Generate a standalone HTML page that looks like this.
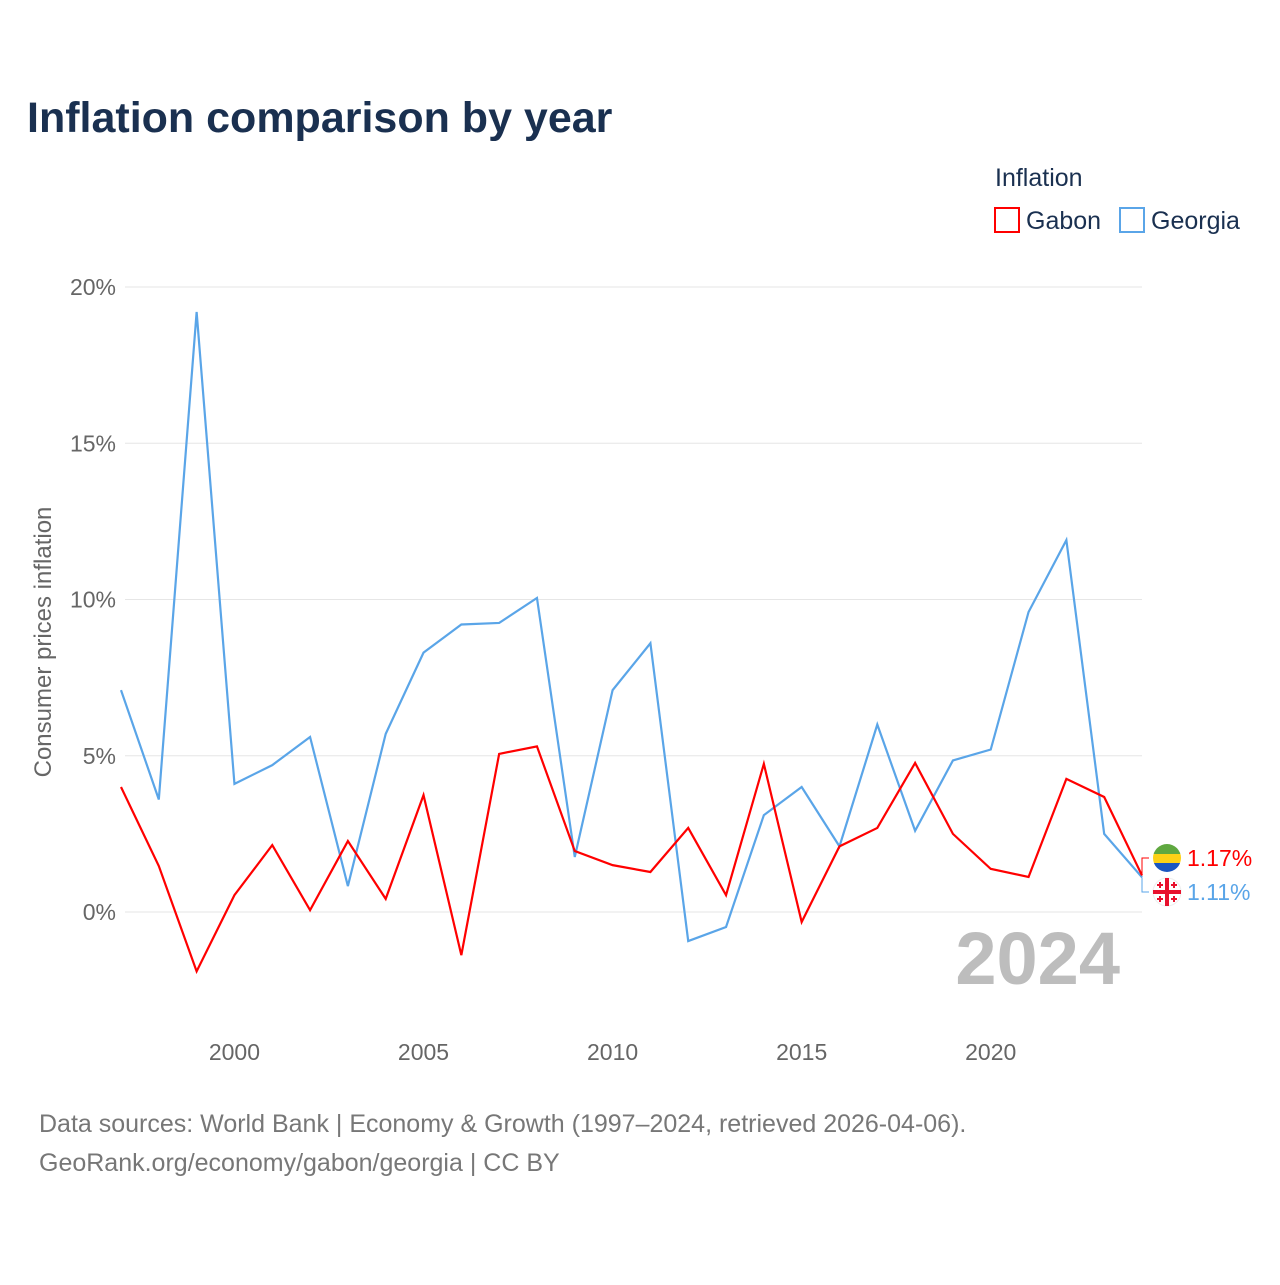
<!DOCTYPE html>
<html><head><meta charset="utf-8">
<style>
body{margin:0;background:#fff;font-family:"Liberation Sans",sans-serif;}
svg text{font-family:"Liberation Sans",sans-serif;}
</style></head>
<body>
<svg id="chart" width="1280" height="1280" xmlns="http://www.w3.org/2000/svg">
<text x="27" y="132" font-size="43" font-weight="bold" fill="#1a3050">Inflation comparison by year</text>
<text x="995" y="186" font-size="25" fill="#1a3050">Inflation</text>
<g><rect x="995" y="208" width="24" height="24" fill="none" stroke="#ff0000" stroke-width="2"/><text x="1026" y="229" font-size="25" fill="#1a3050">Gabon</text></g>
<g><rect x="1120" y="208" width="24" height="24" fill="none" stroke="#5aa5e8" stroke-width="2"/><text x="1151" y="229" font-size="25" fill="#1a3050">Georgia</text></g>
<text transform="translate(51,642) rotate(-90)" text-anchor="middle" font-size="24" fill="#666">Consumer prices inflation</text>
<g id="grid"></g>
<text x="1120" y="984" text-anchor="end" font-size="74" font-weight="bold" fill="#bdbdbd">2024</text>
<g id="series"></g>
<text x="39" y="1132" font-size="25" fill="#777">Data sources: World Bank | Economy &amp; Growth (1997–2024, retrieved 2026-04-06).</text>
<text x="39" y="1171" font-size="25" fill="#777">GeoRank.org/economy/gabon/georgia | CC BY</text>
</svg>
<script>
const years=[1997,1998,1999,2000,2001,2002,2003,2004,2005,2006,2007,2008,2009,2010,2011,2012,2013,2014,2015,2016,2017,2018,2019,2020,2021,2022,2023,2024];
const georgia=[7.1,3.6,19.2,4.1,4.7,5.6,0.83,5.7,8.3,9.2,9.25,10.05,1.76,7.1,8.6,-0.93,-0.48,3.1,4.0,2.1,6.0,2.6,4.85,5.2,9.6,11.9,2.5,1.11];
const gabon=[4.0,1.47,-1.9,0.54,2.14,0.06,2.27,0.42,3.74,-1.38,5.06,5.3,1.95,1.5,1.28,2.69,0.54,4.74,-0.32,2.1,2.69,4.77,2.5,1.38,1.12,4.26,3.68,1.17];
const yTicks=[0,5,10,15,20];
const xTicks=[2000,2005,2010,2015,2020];
const NS="http://www.w3.org/2000/svg";
const X=y=>121+(y-1997)*(1142-121)/27;
const Y=v=>912-v*31.25;
const grid=document.getElementById('grid'),ser=document.getElementById('series');
function mk(tag,attrs,parent){const e=document.createElementNS(NS,tag);for(const k in attrs)e.setAttribute(k,attrs[k]);parent.appendChild(e);return e;}
yTicks.forEach(t=>{
 const l=mk('line',{x1:125,x2:1142,y1:Y(t),y2:Y(t),stroke:'#e6e6e6','stroke-width':1},grid);
 
 
 const tx=mk('text',{x:116,y:Y(t)+8,'text-anchor':'end','font-size':23,fill:'#666'},grid);
 tx.textContent=t+'%';
 
 
});
xTicks.forEach(t=>{
 const tx=mk('text',{x:X(t),y:1060,'text-anchor':'middle','font-size':23,fill:'#666'},grid);
 tx.textContent=t;
 
 
});
function line(vals,color,name){
 const p=mk('polyline',{points:vals.map((v,i)=>X(years[i])+','+Y(v)).join(' '),fill:'none',stroke:color,'stroke-width':2.2,'stroke-linejoin':'miter'},ser);
 
 
}
line(georgia,'#5aa5e8','georgia-line');
line(gabon,'#ff0000','gabon-line');
const lg=gabon[gabon.length-1],lgeo=georgia[georgia.length-1];
const ex=X(2024);
const cy1=858, cy2=892;
const f1=mk('g',{},ser);


mk('path',{d:`M${ex},${Y(lg)} V${cy1} H${ex+7}`,fill:'none',stroke:'#ff0000','stroke-width':1},f1);
mk('clipPath',{id:'c1'},f1).appendChild(document.createElementNS(NS,'circle'));
const c1=document.querySelector('#c1 circle');c1.setAttribute('cx',1167);c1.setAttribute('cy',cy1);c1.setAttribute('r',14);
mk('rect',{x:1153,y:cy1-14,width:28,height:10,fill:'#5fa840','clip-path':'url(#c1)'},f1);
mk('rect',{x:1153,y:cy1-4,width:28,height:9,fill:'#fcd116','clip-path':'url(#c1)'},f1);
mk('rect',{x:1153,y:cy1+5,width:28,height:10,fill:'#1a56c0','clip-path':'url(#c1)'},f1);
const t1=mk('text',{x:1187,y:cy1+8,'font-size':23,fill:'#ff0000'},ser);
t1.textContent=lg.toFixed(2)+'%';


const f2=mk('g',{},ser);


mk('path',{d:`M${ex},${Y(lgeo)} V${cy2} H${ex+7}`,fill:'none',stroke:'#5aa5e8','stroke-width':1},f2);
mk('circle',{cx:1167,cy:cy2,r:14,fill:'#fff',stroke:'#eee'},f2);
mk('rect',{x:1153,y:cy2-2,width:28,height:4,fill:'#e8112d'},f2);
mk('rect',{x:1165,y:cy2-14,width:4,height:28,fill:'#e8112d'},f2);
[[-7,-7],[7,-7],[-7,7],[7,7]].forEach(d=>{
 mk('rect',{x:1167+d[0]-1,y:cy2+d[1]-3,width:2,height:6,fill:'#e8112d'},f2);
 mk('rect',{x:1167+d[0]-3,y:cy2+d[1]-1,width:6,height:2,fill:'#e8112d'},f2);
});
const t2=mk('text',{x:1187,y:cy2+8,'font-size':23,fill:'#5aa5e8'},ser);
t2.textContent=lgeo.toFixed(2)+'%';


</script>
</body></html>
